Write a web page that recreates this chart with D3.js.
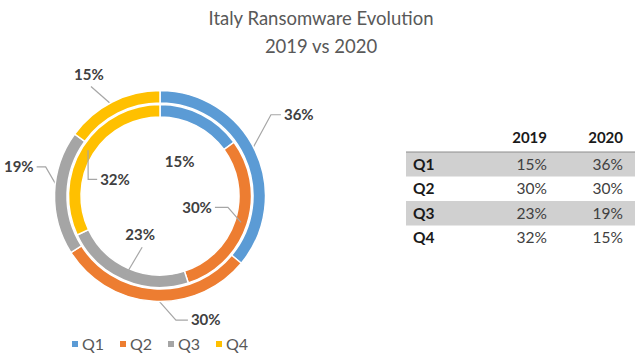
<!DOCTYPE html>
<html>
<head>
<meta charset="utf-8">
<script src="https://cdn.jsdelivr.net/npm/d3@7"></script>
<style>
  body { margin: 0; background: #fff; }
  text { font-family: Lato, "Open Sans", sans-serif; }
</style>
</head>
<body>
<div id="chart"></div>
<script>
// data
var quarters = ["Q1", "Q2", "Q3", "Q4"];
var years = ["2019", "2020"];
var values2019 = [15, 30, 23, 32];
var values2020 = [36, 30, 19, 15];
var colors = ["#5b9bd5", "#ed7d31", "#a5a5a5", "#ffc000"];

// where the data labels sit relative to each slice centroid (layout only)
var innerLabelLayout = [
    { dx: -19, dy: 42, side: "none", leg: 0 },
    { dx: -44, dy: -15, side: "right", leg: 13 },
    { dx: 14, dy: -39, side: "bottom", leg: 0 },
    { dx: 27, dy: 29, side: "left", leg: 9 }
];
var outerLabelLayout = [
    { dx: 49, dy: -39, side: "left", leg: 10 },
    { dx: 52, dy: 25, side: "left", leg: 12 },
    { dx: -42, dy: -26, side: "right", leg: 9 },
    { dx: -26, dy: -33, side: "bottom", leg: 0 }
];

var svgWidth = 640;
var svgHeight = 358;

var svg = d3.select("#chart")
    .append("svg")
    .attr("width", svgWidth)
    .attr("height", svgHeight);

// title
var title = svg.append("g")
    .attr("fill", "#595959")
    .attr("font-size", "18.5px")
    .attr("text-anchor", "middle");
title.append("text").attr("x", 321).attr("y", 25).text("Italy Ransomware Evolution");
title.append("text").attr("x", 321).attr("y", 53).text(years[0] + " vs " + years[1]);

// doughnut
var cx = 160, cy = 196;
var donut = svg.append("g").attr("transform", `translate(${cx}, ${cy})`);

var pie = d3.pie().sort(null).value(d => d);

var innerArc = d3.arc().innerRadius(79).outerRadius(91.5);
var outerArc = d3.arc().innerRadius(93).outerRadius(105.5);

function drawRing(values, arc, layout) {
    var slices = pie(values);

    donut.append("g")
        .selectAll("path")
        .data(slices)
        .enter()
        .append("path")
        .attr("d", arc)
        .attr("fill", (d, i) => colors[i])
        .attr("stroke", "#fff")
        .attr("stroke-width", 1.5);

    slices.forEach(function (d, i) {
        var c = arc.centroid(d);
        var L = layout[i];
        var lx = c[0] + L.dx, ly = c[1] + L.dy;

        var label = donut.append("text")
            .attr("x", lx)
            .attr("y", ly)
            .attr("dy", "0.35em")
            .attr("text-anchor", "middle")
            .attr("font-size", "15px")
            .attr("font-weight", "bold")
            .attr("fill", "#404040")
            .text(d.data + "%");

        var hw = label.node().getComputedTextLength() / 2;
        var pts = null;
        if (L.side === "left") {
            var ex = lx - hw - 3;
            pts = [c, [ex - L.leg, ly], [ex, ly]];
        } else if (L.side === "right") {
            var ex2 = lx + hw + 3;
            pts = [c, [ex2 + L.leg, ly], [ex2, ly]];
        } else if (L.side === "bottom") {
            pts = [c, [lx + 2, ly + 12]];
        }
        if (pts) {
            donut.insert("path", "text")
                .attr("d", d3.line()(pts))
                .attr("fill", "none")
                .attr("stroke", "#a6a6a6")
                .attr("stroke-width", 1.2);
        }
    });
}

drawRing(values2019, innerArc, innerLabelLayout);
drawRing(values2020, outerArc, outerLabelLayout);

// legend
var legend = svg.append("g")
    .selectAll("g")
    .data(quarters)
    .enter()
    .append("g")
    .attr("transform", (d, i) => `translate(${72 + i * 48}, 344)`);

legend.append("rect")
    .attr("x", 0).attr("y", -3)
    .attr("width", 6).attr("height", 6)
    .attr("fill", (d, i) => colors[i]);

legend.append("text")
    .attr("x", 10)
    .attr("dy", "0.35em")
    .attr("font-size", "16px")
    .attr("fill", "#595959")
    .text(d => d);

// table
var table = svg.append("g");
var rowY = d3.scaleBand()
    .domain(quarters)
    .range([152, 250]);
var colX = [547, 623];

table.selectAll("rect.band")
    .data(quarters.filter((d, i) => i % 2 === 0))
    .enter()
    .append("rect")
    .attr("class", "band")
    .attr("x", 406)
    .attr("y", d => rowY(d))
    .attr("width", 229)
    .attr("height", rowY.bandwidth())
    .attr("fill", "#d0d0d0");

table.append("line")
    .attr("x1", 406).attr("x2", 635)
    .attr("y1", 152).attr("y2", 152)
    .attr("stroke", "#8c8c8c")
    .attr("stroke-width", 1);

table.selectAll("text.head")
    .data(years)
    .enter()
    .append("text")
    .attr("class", "head")
    .attr("x", (d, i) => colX[i])
    .attr("y", 138)
    .attr("dy", "0.35em")
    .attr("text-anchor", "end")
    .attr("font-size", "15px")
    .attr("font-weight", "bold")
    .attr("fill", "#1a1a1a")
    .text(d => d);

var rows = table.selectAll("g.row")
    .data(quarters)
    .enter()
    .append("g")
    .attr("class", "row")
    .attr("transform", d => `translate(0, ${rowY(d) + rowY.bandwidth() / 2})`);

rows.append("text")
    .attr("x", 413)
    .attr("dy", "0.35em")
    .attr("font-size", "15.5px")
    .attr("font-weight", "bold")
    .attr("fill", "#1a1a1a")
    .text(d => d);

rows.append("text")
    .attr("x", colX[0])
    .attr("dy", "0.35em")
    .attr("text-anchor", "end")
    .attr("font-size", "15.5px")
    .attr("fill", "#404040")
    .text((d, i) => values2019[i] + "%");

rows.append("text")
    .attr("x", colX[1])
    .attr("dy", "0.35em")
    .attr("text-anchor", "end")
    .attr("font-size", "15.5px")
    .attr("fill", "#404040")
    .text((d, i) => values2020[i] + "%");
</script>
</body>
</html>
